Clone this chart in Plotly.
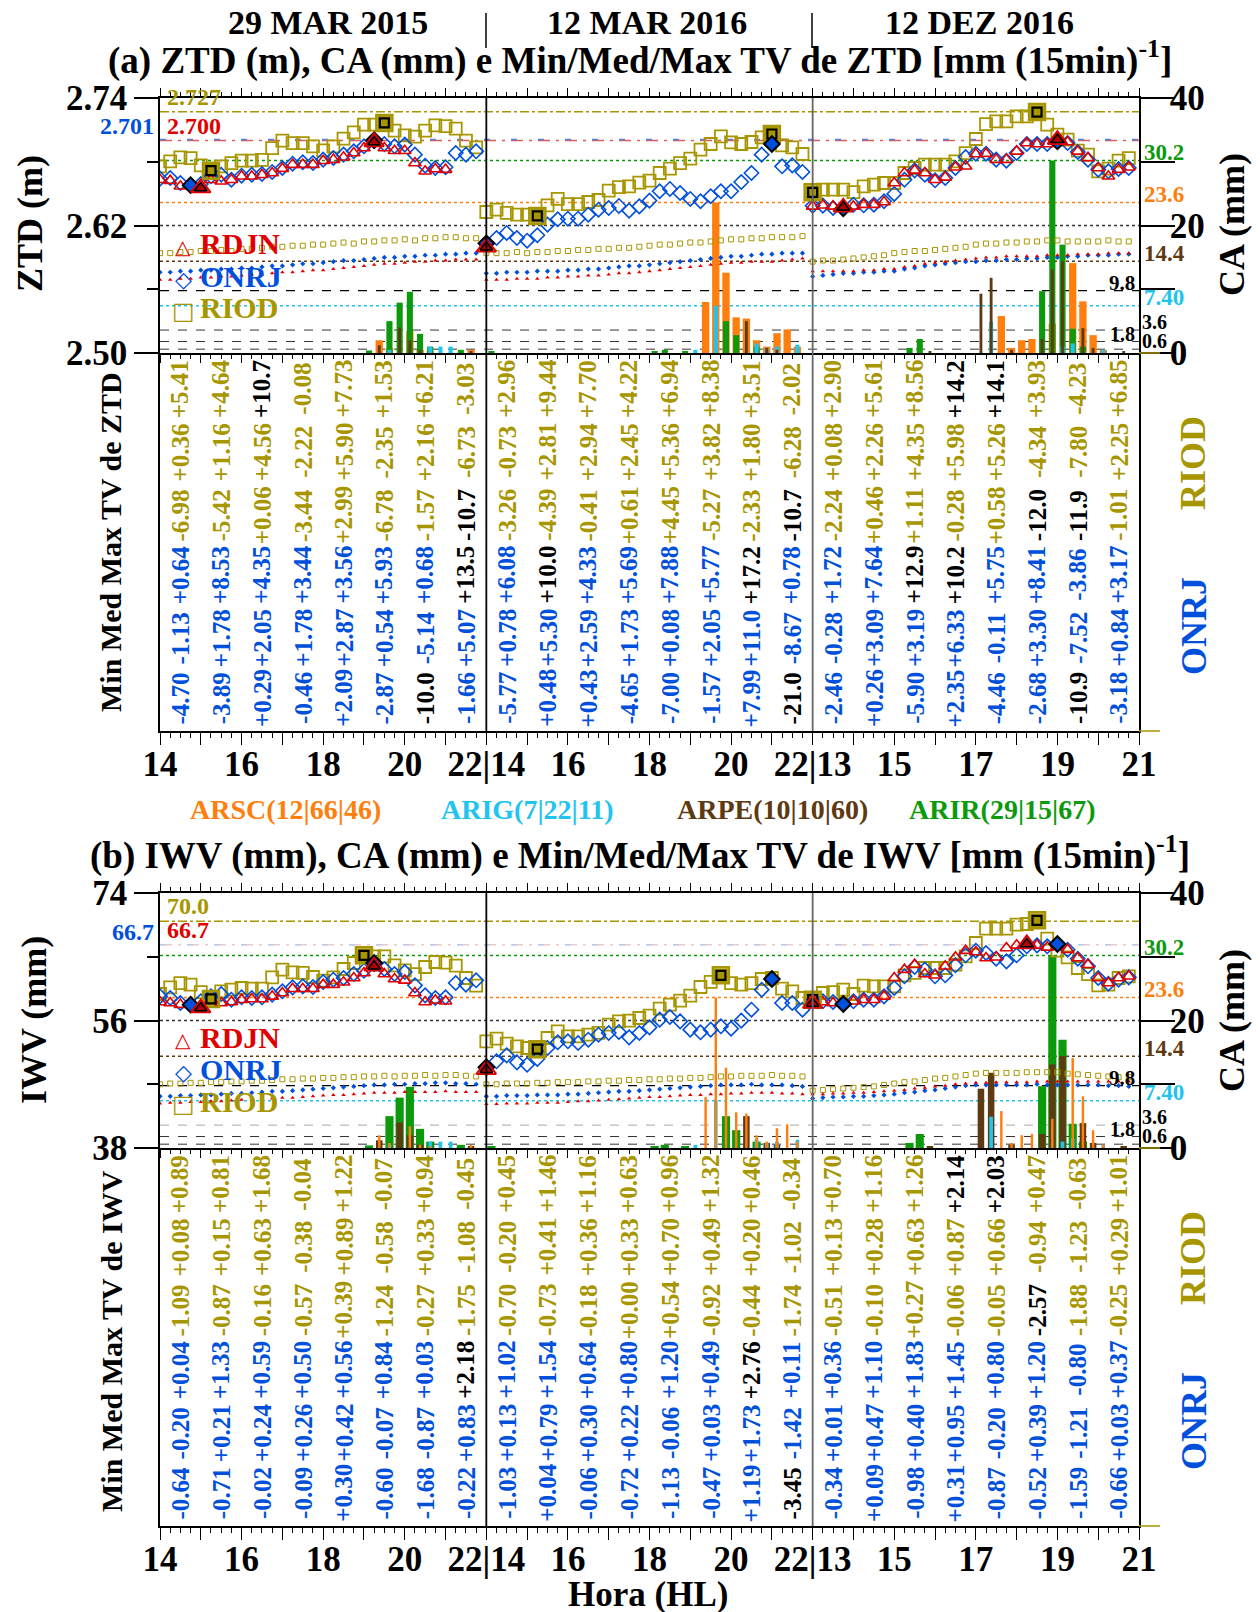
import plotly.graph_objects as go

W, H = 1260, 1612
FONT = "Liberation Serif"
SYM_FONT = "DejaVu Sans"

C_RDJN = "#e00000"
C_ONRJ = "#0050dc"
C_RIOD = "#a89600"
C_ARSC = "#ff7f0e"
C_ARIG = "#20c4ee"
C_ARPE = "#5e3a12"
C_ARIR = "#0c9a0c"

# ---------------- categories / labels ----------------
SEG_START = [14, 14, 13]
SEG_LABELS = ["29 MAR 2015", "12 MAR 2016", "12 DEZ 2016"]
X_TICKVALS = list(range(25))
X_TICKTEXT = ["14", "", "16", "", "18", "", "20", "", "22|14", "", "16", "", "18", "", "20", "",
              "22|13", "", "15", "", "17", "", "19", "", "21"]

# ---------------- ZTD (m), 15-min samples, 32 per day ----------------
ZTD_RDJN_1 = [2.6631, 2.6622, 2.6569, 2.6584, 2.6553, 2.6631, 2.6616, 2.6631, 2.6663, 2.6663, 2.6678, 2.6694,
              2.6735, 2.6773, 2.6773, 2.6773, 2.6810, 2.6820, 2.6842, 2.6882, 2.6929, 2.6986, 2.6929, 2.6904,
              2.6904, 2.6788, 2.6710, 2.6732, 2.6726, None, None, None]
ZTD_RDJN_2 = [2.5995] + [None] * 31
ZTD_RDJN_3 = [2.6380, 2.6390, 2.6380, 2.6371, 2.6380, 2.6396, 2.6396, 2.6421, 2.6600, 2.6694, 2.6719, 2.6694,
              2.6631, 2.6653, 2.6748, 2.6757, 2.6873, 2.6876, 2.6820, 2.6820, 2.6898, 2.6976, 2.6967, 2.6967,
              2.7008, 2.6986, 2.6898, 2.6835, 2.6741, 2.6663, 2.6726, 2.6748]
ZTD_ONRJ_1 = [2.6641, 2.6647, 2.6600, 2.6580, 2.6590, 2.6663, 2.6678, 2.6631, 2.6669, 2.6678, 2.6685, 2.6704,
              2.6741, 2.6782, 2.6795, 2.6788, 2.6820, 2.6835, 2.6867, 2.6898, 2.6945, 2.7002, 2.6967, 2.6945,
              2.6961, 2.6867, 2.6763, 2.6741, 2.6748, 2.6882, 2.6867, 2.6898]
ZTD_ONRJ_2 = [2.6032, 2.6082, 2.6130, 2.6082, 2.6057, 2.6108, 2.6208, 2.6258, 2.6264, 2.6264, 2.6302, 2.6349,
              2.6365, 2.6384, 2.6340, 2.6380, 2.6434, 2.6522, 2.6544, 2.6506, 2.6450, 2.6428, 2.6475, 2.6522,
              2.6522, 2.6609, 2.6694, 2.6867, 2.6967, 2.6757, 2.6766, 2.6704]
ZTD_ONRJ_3 = [2.6387, 2.6387, 2.6365, 2.6362, 2.6396, 2.6390, 2.6396, 2.6428, 2.6497, 2.6631, 2.6719, 2.6678,
              2.6625, 2.6647, 2.6741, 2.6845, 2.6876, 2.6876, 2.6820, 2.6810, 2.6882, 2.6967, 2.6967, 2.6967,
              2.6992, 2.6976, 2.6892, 2.6820, 2.6726, 2.6710, 2.6732, 2.6741]
ZTD_RIOD_1 = [2.6757, 2.6804, 2.6842, 2.6835, 2.6766, 2.6716, 2.6757, 2.6788, 2.6810, 2.6810, 2.6817, 2.6929,
              2.6998, 2.6976, 2.6976, 2.6945, 2.6907, 2.6945, 2.7017, 2.7077, 2.7149, 2.7149, 2.7165, 2.7093,
              2.7049, 2.7036, 2.7093, 2.7143, 2.7136, 2.7111, 2.6998, 2.6936]
ZTD_RIOD_2 = [2.6327, 2.6349, 2.6318, 2.6302, 2.6302, 2.6290, 2.6390, 2.6450, 2.6402, 2.6402, 2.6421, 2.6440,
              2.6528, 2.6562, 2.6569, 2.6603, 2.6622, 2.6694, 2.6735, 2.6788, 2.6829, 2.6914, 2.6967, 2.7039,
              2.6983, 2.6967, 2.6986, 2.7030, 2.7061, 2.6955, 2.6936, 2.6873]
ZTD_RIOD_3 = [2.6512, 2.6537, 2.6537, 2.6537, 2.6515, 2.6569, 2.6584, 2.6600, 2.6600, 2.6694, 2.6741, 2.6773,
              2.6773, 2.6773, 2.6804, 2.6882, 2.7014, 2.7155, 2.7180, 2.7180, 2.7227, 2.7227, 2.7268, 2.7149,
              2.7055, 2.7008, 2.6904, 2.6867, 2.6710, 2.6735, 2.6810, 2.6835]

# small (lower) series in panel (a)
ZTDS_RIOD_1 = [2.594, 2.594, 2.595, 2.595, 2.596, 2.596, 2.597, 2.596, 2.598, 2.598, 2.599, 2.600, 2.600, 2.601,
               2.601, 2.602, 2.602, 2.603, 2.604, 2.603, 2.605, 2.605, 2.606, 2.606, 2.607, 2.606, 2.608, 2.608,
               2.609, 2.609, 2.608, 2.608]
ZTDS_RIOD_2 = [2.594, 2.594, 2.594, 2.595, 2.594, 2.595, 2.595, 2.596, 2.596, 2.597, 2.597, 2.598, 2.598, 2.599,
               2.599, 2.600, 2.601, 2.602, 2.602, 2.603, 2.604, 2.604, 2.605, 2.606, 2.607, 2.607, 2.608, 2.608,
               2.609, 2.609, 2.609, 2.610]
ZTDS_RIOD_3 = [2.586, 2.587, 2.587, 2.588, 2.589, 2.590, 2.591, 2.592, 2.594, 2.595, 2.596, 2.596, 2.597, 2.598,
               2.599, 2.600, 2.602, 2.603, 2.603, 2.604, 2.604, 2.605, 2.605, 2.606, 2.606, 2.605, 2.605, 2.605,
               2.605, 2.606, 2.605, 2.605]
ZTDS_ONRJ_1 = [2.576, 2.576, 2.577, 2.577, 2.578, 2.578, 2.579, 2.579, 2.580, 2.580, 2.581, 2.582, 2.582, 2.583,
               2.584, 2.584, 2.585, 2.586, 2.587, 2.587, 2.588, 2.589, 2.590, 2.590, 2.591, 2.591, 2.592, 2.592,
               2.593, 2.593, 2.594, 2.594]
ZTDS_ONRJ_2 = [2.575, 2.575, 2.576, 2.576, 2.576, 2.577, 2.577, 2.577, 2.578, 2.578, 2.579, 2.579, 2.580, 2.581,
               2.582, 2.582, 2.583, 2.584, 2.585, 2.586, 2.587, 2.588, 2.589, 2.590, 2.591, 2.591, 2.592, 2.593,
               2.593, 2.594, 2.594, 2.594]
ZTDS_ONRJ_3 = [2.572, 2.573, 2.574, 2.575, 2.575, 2.576, 2.576, 2.577, 2.577, 2.579, 2.580, 2.582, 2.583, 2.584,
               2.585, 2.586, 2.586, 2.587, 2.587, 2.588, 2.588, 2.589, 2.589, 2.590, 2.590, 2.591, 2.591, 2.592,
               2.592, 2.592, 2.593, 2.593]
ZTDS_RDJN_1 = [2.569, 2.569, 2.570, 2.570, 2.571, 2.571, 2.572, 2.572, 2.573, 2.574, 2.574, 2.575, 2.576, 2.576,
               2.577, 2.578, 2.578, 2.579, 2.580, 2.581, 2.582, 2.583, 2.584, 2.584, 2.585, 2.586, 2.586, 2.587,
               2.587, 2.588, 2.588, 2.588]
ZTDS_RDJN_2 = [2.569, 2.569, 2.569, 2.570, 2.570, 2.570, 2.571, 2.571, 2.572, 2.572, 2.573, 2.573, 2.574, 2.575,
               2.575, 2.576, 2.577, 2.578, 2.579, 2.580, 2.581, 2.582, 2.583, 2.584, 2.585, 2.585, 2.586, 2.586,
               2.586, 2.587, 2.588, 2.589]
ZTDS_RDJN_3 = [2.577, 2.577, 2.577, 2.577, 2.577, 2.578, 2.578, 2.579, 2.579, 2.581, 2.582, 2.584, 2.585, 2.586,
               2.587, 2.588, 2.589, 2.590, 2.590, 2.591, 2.591, 2.591, 2.591, 2.592, 2.592, 2.592, 2.593, 2.593,
               2.593, 2.594, 2.594, 2.594]

# ---------------- IWV (mm) ----------------
IWV_RDJN_1 = [58.61, 58.47, 58.24, 58.33, 57.76, 58.94, 58.47, 58.61, 58.94, 59.04, 59.04, 59.41, 59.88, 60.49,
              60.49, 60.49, 61.06, 61.06, 61.39, 62.00, 62.71, 63.65, 62.56, 61.86, 61.67, 59.88, 58.61, 58.85,
              58.71, None, None, None]
IWV_RDJN_2 = [49.06] + [None] * 31
IWV_RDJN_3 = [58.40, 58.61, 58.47, 58.61, 58.71, 58.94, 58.94, 59.41, 62.00, 63.18, 63.88, 62.56, 62.38, 63.65,
              64.92, 65.86, 65.67, 64.82, 64.92, 66.24, 66.61, 66.80, 66.61, 66.33, 66.47, 66.00, 64.82, 63.88,
              62.00, 61.29, 62.00, 62.24]
IWV_ONRJ_1 = [59.41, 59.18, 58.47, 58.24, 58.71, 59.41, 59.74, 58.94, 59.27, 59.18, 59.27, 59.65, 60.12, 60.68,
              60.82, 60.73, 61.44, 61.76, 62.00, 62.56, 63.03, 64.12, 63.27, 62.56, 62.85, 60.96, 59.55, 59.18,
              59.27, 61.29, 61.06, 61.67]
IWV_ONRJ_2 = [49.39, 50.24, 51.08, 50.09, 49.76, 50.56, 52.12, 52.92, 53.06, 52.82, 53.29, 54.00, 54.24, 54.38,
              53.62, 54.24, 55.03, 56.12, 56.49, 55.88, 54.71, 54.33, 54.71, 55.18, 54.85, 55.98, 57.53, 60.35,
              61.86, 58.47, 58.47, 57.53]
IWV_ONRJ_3 = [58.80, 58.71, 58.61, 58.33, 58.71, 58.94, 58.94, 59.41, 60.59, 62.24, 63.55, 63.18, 62.24, 62.38,
              63.79, 65.20, 65.86, 65.53, 64.73, 64.35, 65.20, 66.47, 66.61, 66.47, 66.80, 66.00, 64.73, 63.65,
              62.00, 61.20, 61.76, 62.09]
IWV_RIOD_1 = [59.74, 60.68, 61.29, 61.06, 60.02, 59.04, 60.12, 60.35, 60.59, 60.49, 60.49, 62.09, 63.18, 62.80,
              62.71, 62.14, 61.62, 62.09, 63.27, 64.12, 65.20, 65.06, 65.06, 63.79, 63.08, 62.56, 63.55, 64.26,
              64.16, 63.74, 62.00, 60.92]
IWV_RIOD_2 = [53.06, 53.43, 52.73, 52.35, 52.12, 51.95, 53.53, 54.47, 53.76, 53.76, 54.00, 54.24, 55.41, 55.88,
              55.98, 56.35, 56.68, 57.67, 58.24, 58.80, 59.51, 60.73, 61.44, 62.38, 61.29, 61.06, 61.29, 61.86,
              62.00, 60.49, 60.12, 59.18]
IWV_RIOD_3 = [58.94, 59.88, 60.02, 60.35, 59.74, 60.92, 60.82, 60.82, 60.82, 62.38, 62.71, 63.41, 63.41, 63.41,
              63.88, 65.06, 66.94, 68.96, 68.96, 68.96, 69.53, 69.62, 70.14, 67.55, 65.86, 64.92, 63.41, 62.56,
              60.96, 61.06, 62.00, 62.24]

IWVS_RIOD_1 = [47.0, 47.1, 47.1, 47.2, 47.2, 47.3, 47.3, 47.4, 47.4, 47.5, 47.5, 47.6, 47.7, 47.7, 47.8, 47.8,
               47.9, 47.9, 48.0, 48.0, 48.1, 48.1, 48.2, 48.1, 48.2, 48.2, 48.3, 48.2, 48.3, 48.3, 48.2, 48.1]
IWVS_RIOD_2 = [47.0, 47.0, 47.1, 47.1, 47.1, 47.2, 47.2, 47.3, 47.3, 47.3, 47.4, 47.4, 47.5, 47.5, 47.6, 47.6,
               47.7, 47.7, 47.8, 47.8, 47.9, 47.9, 48.0, 48.1, 48.1, 48.2, 48.2, 48.2, 48.3, 48.2, 48.2, 48.1]
IWVS_RIOD_3 = [46.1, 46.2, 46.3, 46.4, 46.5, 46.6, 46.7, 46.9, 47.1, 47.3, 47.4, 47.6, 47.8, 47.9, 48.1, 48.3,
               48.5, 48.6, 48.6, 48.6, 48.6, 48.7, 48.7, 48.7, 48.7, 48.5, 48.4, 48.3, 48.2, 48.1, 48.0, 48.0]
IWVS_ONRJ_1 = [45.3, 45.3, 45.4, 45.4, 45.5, 45.5, 45.6, 45.7, 45.7, 45.8, 45.9, 46.0, 46.0, 46.1, 46.2, 46.3,
               46.4, 46.5, 46.6, 46.7, 46.8, 46.9, 46.9, 47.0, 47.0, 47.1, 47.1, 47.2, 47.2, 47.1, 47.1, 47.0]
IWVS_ONRJ_2 = [45.3, 45.3, 45.4, 45.4, 45.4, 45.5, 45.5, 45.5, 45.6, 45.6, 45.7, 45.8, 45.9, 46.0, 46.0, 46.1,
               46.2, 46.3, 46.4, 46.5, 46.6, 46.7, 46.8, 46.9, 46.9, 46.9, 47.0, 46.9, 46.9, 46.9, 46.8, 46.7]
IWVS_ONRJ_3 = [45.0, 45.1, 45.2, 45.2, 45.3, 45.3, 45.4, 45.5, 45.6, 45.8, 45.9, 46.1, 46.2, 46.4, 46.6, 46.8,
               46.9, 46.9, 46.9, 46.9, 46.9, 46.9, 47.0, 46.9, 46.9, 46.9, 46.9, 46.9, 46.9, 46.8, 46.8, 46.7]
IWVS_RDJN_1 = [44.3, 44.4, 44.4, 44.5, 44.5, 44.6, 44.6, 44.7, 44.8, 44.8, 44.9, 45.0, 45.1, 45.1, 45.2, 45.3,
               45.4, 45.5, 45.5, 45.6, 45.7, 45.8, 45.8, 45.8, 45.9, 45.9, 45.9, 45.9, 46.0, 45.9, 45.9, 45.9]
IWVS_RDJN_2 = [44.2, 44.2, 44.3, 44.3, 44.3, 44.4, 44.4, 44.4, 44.5, 44.6, 44.6, 44.7, 44.8, 44.9, 45.0, 45.1,
               45.2, 45.2, 45.3, 45.4, 45.5, 45.5, 45.6, 45.6, 45.7, 45.7, 45.8, 45.8, 45.8, 45.7, 45.7, 45.6]
IWVS_RDJN_3 = [45.6, 45.6, 45.7, 45.7, 45.8, 45.8, 45.9, 46.0, 46.1, 46.2, 46.4, 46.5, 46.7, 46.8, 47.0, 47.1,
               47.2, 47.2, 47.3, 47.3, 47.3, 47.3, 47.4, 47.4, 47.4, 47.4, 47.4, 47.4, 47.4, 47.4, 47.4, 47.4]

# ---------------- CA (mm, 15-min accumulated rain) ----------------
ARSC_SEG = [0, 0, 0, 0, 0, 0, 1, 1, 1, 1, 1, 1, 1, 1, 1, 1, 2, 2, 2, 2, 2, 2, 2, 2, 2]
ARSC_T = [19.25, 19.5, 20.0, 20.25, 20.5, 21.5, 19.25, 19.5, 19.75, 20.0, 20.25, 20.5, 20.75, 21.0, 21.25, 21.5,
          17.5, 17.75, 18.0, 18.25, 18.75, 19.25, 19.5, 19.75, 20.0]
ARSC_V = [2.0, 0.8, 3.4, 0.5, 0.3, 0.5, 8.0, 23.6, 12.6, 5.6, 5.4, 2.0, 1.0, 3.1, 3.7, 1.0,
          5.8, 0.8, 2.0, 2.2, 4.6, 14.1, 8.1, 2.8, 0.5]
ARIG_SEG = [0, 0, 0, 0, 1, 1, 1, 1, 1, 1, 2, 2, 2, 2]
ARIG_T = [19.5, 20.5, 20.75, 21.0, 19.0, 19.5, 20.5, 20.75, 21.0, 21.5, 17.25, 19.0, 19.25, 20.0]
ARIG_V = [0.5, 1.0, 1.0, 1.0, 0.5, 7.4, 1.5, 0.8, 1.0, 1.3, 4.9, 1.0, 1.5, 0.5]
ARPE_SEG = [0, 0, 0, 0, 0, 1, 1, 1, 2, 2, 2, 2, 2, 2, 2, 2, 2, 2]
ARPE_T = [19.25, 19.75, 20.0, 20.25, 21.5, 20.25, 20.75, 21.0, 15.75, 17.0, 17.25, 17.75, 18.5, 18.75, 19.0,
          19.5, 19.75, 20.5]
ARPE_V = [1.2, 4.0, 2.0, 0.5, 0.3, 5.0, 0.8, 0.5, 0.3, 9.3, 11.8, 0.5, 2.2, 13.1, 14.4, 3.9, 0.8, 0.2]
ARIR_SEG = [0, 0, 0, 0, 0, 0, 0, 1, 1, 1, 1, 1, 1, 1, 2, 2, 2, 2, 2, 2, 2]
ARIR_T = [19.0, 19.5, 19.75, 20.0, 20.25, 20.5, 21.25, 14.0, 18.0, 18.25, 18.75, 19.75, 20.0, 20.5,
          15.25, 15.5, 18.5, 18.75, 19.0, 19.25, 19.5]
ARIR_V = [0.4, 5.0, 7.9, 9.6, 3.0, 1.0, 0.5, 0.2, 0.3, 0.5, 0.3, 5.0, 2.8, 1.0,
          0.8, 2.2, 9.7, 30.2, 17.0, 3.8, 1.0]
LEGEND_TXT = ["ARSC(12|66|46)", "ARIG(7|22|11)", "ARPE(10|10|60)", "ARIR(29|15|67)"]

# reference levels
CA_REF = [30.2, 23.6, 14.4, 9.8, 7.40, 3.6, 1.8, 0.6]
CA_REF_TXT = ["30.2", "23.6", "14.4", "9.8", "7.40", "3.6", "1.8", "0.6"]
ZTD_MAX = [2.727, 2.701, 2.700]
ZTD_MAX_TXT = ["2.727", "2.701", "2.700"]
IWV_MAX = [70.0, 66.7, 66.7]
IWV_MAX_TXT = ["70.0", "66.7", "66.7"]

# ---------------- TV tables: per day, per hour: ONRJ min/med/max, RIOD min/med/max ----------------
TV_ZTD = [
    [[-4.70, -1.13, 0.64, -6.98, 0.36, 5.41], [-3.89, 1.78, 8.53, -5.42, 1.16, 4.64],
     [0.29, 2.05, 4.35, 0.06, 4.56, 10.7], [-0.46, 1.78, 3.44, -3.44, -2.22, -0.08],
     [2.09, 2.87, 3.56, 2.99, 5.90, 7.73], [-2.87, 0.54, 5.93, -6.78, -2.35, 1.53],
     [-10.0, -5.14, 0.68, -1.57, 2.16, 6.21], [-1.66, 5.07, 13.5, -10.7, -6.73, -3.03]],
    [[-5.77, 0.78, 6.08, -3.26, -0.73, 2.96], [0.48, 5.30, 10.0, -4.39, 2.81, 9.44],
     [0.43, 2.59, 4.33, -0.41, 2.94, 7.70], [-4.65, 1.73, 5.69, 0.61, 2.45, 4.22],
     [-7.00, 0.08, 7.88, 4.45, 5.36, 6.94], [-1.57, 2.05, 5.77, -5.27, 3.82, 8.38],
     [7.99, 11.0, 17.2, -2.33, 1.80, 3.51], [-21.0, -8.67, 0.78, -10.7, -6.28, -2.02]],
    [[-2.46, -0.28, 1.72, -2.24, 0.08, 2.90], [0.26, 3.09, 7.64, 0.46, 2.26, 5.61],
     [-5.90, 3.19, 12.9, 1.11, 4.35, 8.56], [2.35, 6.33, 10.2, -0.28, 5.98, 14.2],
     [-4.46, -0.11, 5.75, 0.58, 5.26, 14.1], [-2.68, 3.30, 8.41, -12.0, -4.34, 3.93],
     [-10.9, -7.52, -3.86, -11.9, -7.80, -4.23], [-3.18, 0.84, 3.17, -1.01, 2.25, 6.85]],
]
TV_ZTD_BLACK = [(0, 2, 5), (0, 6, 0), (0, 7, 2), (0, 7, 3), (1, 1, 2), (1, 6, 2), (1, 7, 0), (1, 7, 3),
                (2, 2, 2), (2, 3, 2), (2, 3, 5), (2, 4, 5), (2, 5, 3), (2, 6, 0), (2, 6, 3)]
TV_IWV = [
    [[-0.64, -0.20, 0.04, -1.09, 0.08, 0.89], [-0.71, 0.21, 1.33, -0.87, 0.15, 0.81],
     [-0.02, 0.24, 0.59, -0.16, 0.63, 1.68], [-0.09, 0.26, 0.50, -0.57, -0.38, -0.04],
     [0.30, 0.42, 0.56, 0.39, 0.89, 1.22], [-0.60, -0.07, 0.84, -1.24, -0.58, -0.07],
     [-1.68, -0.87, 0.03, -0.27, 0.33, 0.94], [-0.22, 0.83, 2.18, -1.75, -1.08, -0.45]],
    [[-1.03, 0.13, 1.02, -0.70, -0.20, 0.45], [0.04, 0.79, 1.54, -0.73, 0.41, 1.46],
     [-0.06, 0.30, 0.64, -0.18, 0.36, 1.16], [-0.72, 0.22, 0.80, 0.00, 0.33, 0.63],
     [-1.13, -0.06, 1.20, 0.54, 0.70, 0.96], [-0.47, 0.03, 0.49, -0.92, 0.49, 1.32],
     [1.19, 1.73, 2.76, -0.44, 0.20, 0.46], [-3.45, -1.42, 0.11, -1.74, -1.02, -0.34]],
    [[-0.34, 0.01, 0.36, -0.51, 0.13, 0.70], [0.09, 0.47, 1.10, -0.10, 0.28, 1.16],
     [-0.98, 0.40, 1.83, 0.27, 0.63, 1.26], [0.31, 0.95, 1.45, -0.06, 0.87, 2.14],
     [-0.87, -0.20, 0.80, -0.05, 0.66, 2.03], [-0.52, 0.39, 1.20, -2.57, -0.94, 0.47],
     [-1.59, -1.21, -0.80, -1.88, -1.23, -0.63], [-0.66, 0.03, 0.37, -0.25, 0.29, 1.01]],
]
TV_IWV_BLACK = [(0, 7, 2), (1, 6, 2), (1, 7, 0), (2, 3, 5), (2, 4, 5), (2, 5, 3)]

# ---------------- layout geometry (pixels) ----------------
def px(x):
    return x / W


def py(y):
    return 1 - y / H


XD = [px(152), px(1131)]
PANELS = {
    "a": dict(top=90, bot=345, tbot=723),
    "b": dict(top=885, bot=1140, tbot=1518),
}
SLOT_Y = [0.087, 0.246, 0.413, 0.571, 0.738, 0.905]

XP = [s * 8 + i * 0.25 for s in range(3) for i in range(32)]


def extremes(vals):
    xs, ys = [], []
    for s in range(3):
        seg = vals[s * 32:(s + 1) * 32]
        idx = [i for i, v in enumerate(seg) if v is not None]
        if not idx:
            continue
        imin = min(idx, key=lambda i: seg[i])
        imax = max(idx, key=lambda i: seg[i])
        for i in sorted({imin, imax}):
            xs.append(s * 8 + i * 0.25)
            ys.append(seg[i])
    return xs, ys


def bar_x(segs, ts):
    return [s * 8 + (t - SEG_START[s]) + 0.125 for s, t in zip(segs, ts)]


fig = go.Figure()

BARS = {
    "ARSC": (ARSC_SEG, ARSC_T, ARSC_V, C_ARSC),
    "ARIG": (ARIG_SEG, ARIG_T, ARIG_V, C_ARIG),
    "ARPE": (ARPE_SEG, ARPE_T, ARPE_V, C_ARPE),
    "ARIR": (ARIR_SEG, ARIR_T, ARIR_V, C_ARIR),
}


def add_panel(xa, yca, yv, rdjn, onrj, riod, rdjn_s, onrj_s, riod_s, bar_order):
    for name, w in bar_order:
        segs, ts, vs, col = BARS[name]
        fig.add_trace(go.Bar(x=bar_x(segs, ts), y=vs, width=w, marker=dict(color=col, line=dict(width=0)),
                             xaxis=xa, yaxis=yca, showlegend=False))
    fig.add_trace(go.Scatter(x=XP, y=riod_s, mode="markers", xaxis=xa, yaxis=yv, showlegend=False,
                             marker=dict(symbol="square-open", size=5, color=C_RIOD, line=dict(width=1))))
    fig.add_trace(go.Scatter(x=XP, y=onrj_s, mode="markers", xaxis=xa, yaxis=yv, showlegend=False,
                             marker=dict(symbol="diamond", size=4, color=C_ONRJ)))
    fig.add_trace(go.Scatter(x=XP, y=rdjn_s, mode="markers", xaxis=xa, yaxis=yv, showlegend=False,
                             marker=dict(symbol="triangle-up", size=4, color=C_RDJN)))
    fig.add_trace(go.Scatter(x=XP, y=riod, mode="markers", xaxis=xa, yaxis=yv, showlegend=False,
                             marker=dict(symbol="square-open", size=12, color=C_RIOD, line=dict(width=1.8))))
    fig.add_trace(go.Scatter(x=XP, y=onrj, mode="markers", xaxis=xa, yaxis=yv, showlegend=False,
                             marker=dict(symbol="diamond-open", size=11, color=C_ONRJ, line=dict(width=1.6))))
    fig.add_trace(go.Scatter(x=XP, y=rdjn, mode="markers", xaxis=xa, yaxis=yv, showlegend=False,
                             marker=dict(symbol="triangle-up-open", size=11, color=C_RDJN, line=dict(width=1.6))))
    hx, hy = extremes(riod)
    fig.add_trace(go.Scatter(x=hx, y=hy, mode="markers", xaxis=xa, yaxis=yv, showlegend=False,
                             marker=dict(symbol="square-open", size=16, color=C_RIOD, line=dict(width=2.5))))
    fig.add_trace(go.Scatter(x=hx, y=hy, mode="markers", xaxis=xa, yaxis=yv, showlegend=False,
                             marker=dict(symbol="square", size=9, color=C_RIOD, line=dict(width=2.2, color="black"))))
    hx, hy = extremes(onrj)
    fig.add_trace(go.Scatter(x=hx, y=hy, mode="markers", xaxis=xa, yaxis=yv, showlegend=False,
                             marker=dict(symbol="diamond", size=12, color=C_ONRJ, line=dict(width=2, color="black"))))
    hx, hy = extremes(rdjn)
    fig.add_trace(go.Scatter(x=hx, y=hy, mode="markers", xaxis=xa, yaxis=yv, showlegend=False,
                             marker=dict(symbol="triangle-up-open", size=17, color=C_RDJN, line=dict(width=2))))
    fig.add_trace(go.Scatter(x=hx, y=hy, mode="markers", xaxis=xa, yaxis=yv, showlegend=False,
                             marker=dict(symbol="triangle-up", size=11, color="#b00000", line=dict(width=1.5, color="black"))))


add_panel("x2", "y", "y2",
          ZTD_RDJN_1 + ZTD_RDJN_2 + ZTD_RDJN_3, ZTD_ONRJ_1 + ZTD_ONRJ_2 + ZTD_ONRJ_3,
          ZTD_RIOD_1 + ZTD_RIOD_2 + ZTD_RIOD_3,
          ZTDS_RDJN_1 + ZTDS_RDJN_2 + ZTDS_RDJN_3, ZTDS_ONRJ_1 + ZTDS_ONRJ_2 + ZTDS_ONRJ_3,
          ZTDS_RIOD_1 + ZTDS_RIOD_2 + ZTDS_RIOD_3,
          [("ARSC", 0.18), ("ARIR", 0.15), ("ARIG", 0.10), ("ARPE", 0.07)])
add_panel("x4", "y3", "y4",
          IWV_RDJN_1 + IWV_RDJN_2 + IWV_RDJN_3, IWV_ONRJ_1 + IWV_ONRJ_2 + IWV_ONRJ_3,
          IWV_RIOD_1 + IWV_RIOD_2 + IWV_RIOD_3,
          IWVS_RDJN_1 + IWVS_RDJN_2 + IWVS_RDJN_3, IWVS_ONRJ_1 + IWVS_ONRJ_2 + IWVS_ONRJ_3,
          IWVS_RIOD_1 + IWVS_RIOD_2 + IWVS_RIOD_3,
          [("ARIR", 0.2), ("ARPE", 0.16), ("ARIG", 0.09), ("ARSC", 0.06)])

# ---------------- axes ----------------
TICKF = dict(family=FONT, size=35, color="black", weight="bold")
XMINOR = dict(dtick=0.25, tick0=0, ticklen=5, ticks="outside", tickcolor="black", showgrid=False)


def text_xaxis(anchor):
    return dict(domain=XD, anchor=anchor, range=[0, 24], tickvals=X_TICKVALS, ticktext=X_TICKTEXT,
                ticks="outside", ticklen=12, tickwidth=1.2, tickcolor="black", tickfont=TICKF,
                ticklabelstandoff=-11, showline=True, linecolor="black", linewidth=1.5, showgrid=False,
                zeroline=False, minor=XMINOR, fixedrange=True, automargin=False)


def plot_xaxis(anchor, match):
    return dict(domain=XD, anchor=anchor, matches=match, range=[0, 24], tickvals=X_TICKVALS,
                showticklabels=False, ticks="outside", ticklen=8, tickwidth=1.2, tickcolor="black",
                mirror="ticks", showline=True, linecolor="black", linewidth=1.5, showgrid=False,
                zeroline=False, automargin=False,
                minor=dict(dtick=0.25, tick0=0, ticklen=4, ticks="outside", tickcolor="black"))


def ca_axis(dom, anchor):
    return dict(domain=dom, anchor=anchor, side="right", range=[0, 40], tickvals=[0, 10, 20, 30, 40],
                ticktext=["0", "", "20", "", "40"], ticks="outside", ticklen=34, tickwidth=1.5,
                tickcolor="black", tickfont=TICKF, ticklabelstandoff=-12, showline=True, linecolor="black",
                linewidth=1.5, showgrid=False, zeroline=False, automargin=False)


def val_axis(overlay, anchor, rng, major, minor_vals, fmt):
    return dict(overlaying=overlay, anchor=anchor, side="left", range=rng, tickvals=major,
                ticktext=[fmt.format(v) for v in major], ticks="outside", ticklen=24, tickwidth=1.5,
                tickcolor="black", tickfont=TICKF, showline=True, linecolor="black", linewidth=1.5,
                showgrid=False, zeroline=False, automargin=False,
                minor=dict(tickvals=minor_vals, ticklen=11, ticks="outside", tickcolor="black"))


def text_yaxis(dom, anchor):
    return dict(domain=dom, anchor=anchor, range=[0, 1], showticklabels=False, ticks="", showline=True,
                mirror=True, linecolor="black", linewidth=1.5, showgrid=False, zeroline=False,
                automargin=False)


pa, pb = PANELS["a"], PANELS["b"]
fig.update_layout(
    width=W, height=H, margin=dict(l=0, r=0, t=0, b=0, autoexpand=False),
    paper_bgcolor="white", plot_bgcolor="white", barmode="overlay", showlegend=False,
    xaxis=text_xaxis("y5"),
    xaxis2=plot_xaxis("y", "x"),
    xaxis3=text_xaxis("y6"),
    xaxis4=plot_xaxis("y3", "x3"),
    yaxis=ca_axis([py(pa["bot"]), py(pa["top"])], "x2"),
    yaxis2=val_axis("y", "x2", [2.50, 2.74], [2.50, 2.62, 2.74], [2.56, 2.68], "{:.2f}"),
    yaxis3=ca_axis([py(pb["bot"]), py(pb["top"])], "x4"),
    yaxis4=val_axis("y3", "x4", [38, 74], [38, 56, 74], [47, 65], "{:.0f}"),
    yaxis5=text_yaxis([py(pa["tbot"]), py(pa["bot"])], "x"),
    yaxis6=text_yaxis([py(pb["tbot"]), py(pb["bot"])], "x3"),
)

# ---------------- shapes ----------------
shapes = []
CA_STYLE = [(C_ARIR, "dot", 1.5), (C_ARSC, "dot", 1.5), (C_ARPE, "dot", 1.5), ("black", "dash", 1.2),
            (C_ARIG, "dot", 1.5), ("#333333", "dash", 1.0), ("#333333", "dash", 1.0), ("#333333", "dash", 1.0)]
for xa, yca, yv, maxv, maxcols in [("x2", "y", "y2", ZTD_MAX, [C_RIOD, "#5a7fe0", "#e05a5a"]),
                                   ("x4", "y3", "y4", IWV_MAX, [C_RIOD, "#b8cdee", "#f0c8c8"])]:
    for i, (v, (col, dash, w)) in enumerate(zip(CA_REF, CA_STYLE)):
        if yca == "y3" and i == 5:
            col, w = "#bbbbbb", 1.2
        shapes.append(dict(type="line", xref=f"{xa} domain", x0=0, x1=1, yref=yca, y0=v, y1=v, layer="below",
                           line=dict(color=col, dash=dash, width=w)))
    shapes.append(dict(type="line", xref=f"{xa} domain", x0=0, x1=1, yref=yca, y0=20, y1=20, layer="below",
                       line=dict(color="#333333", dash="dot", width=1.5)))
    shapes.append(dict(type="line", xref=f"{xa} domain", x0=0, x1=1, yref=yv, y0=maxv[0], y1=maxv[0],
                       layer="below", line=dict(color=maxcols[0], dash="dashdot", width=1.5)))
    shapes.append(dict(type="line", xref=f"{xa} domain", x0=0, x1=1, yref=yv, y0=maxv[2], y1=maxv[2],
                       layer="below", line=dict(color=maxcols[2], dash="12px,6px,3px,6px", width=1.6)))
    shapes.append(dict(type="line", xref=f"{xa} domain", x0=0, x1=1, yref=yv, y0=maxv[1], y1=maxv[1],
                       layer="below", line=dict(color=maxcols[1], dash="6px,21px", width=1.6)))

for p in (pa, pb):
    shapes.append(dict(type="line", xref="x", x0=8, x1=8, yref="paper", y0=py(p["top"]), y1=py(p["tbot"]),
                       line=dict(color="black", width=1.8)))
    shapes.append(dict(type="line", xref="x", x0=16, x1=16, yref="paper", y0=py(p["top"]), y1=py(p["tbot"]),
                       line=dict(color="#666666", width=1.8)))
    for yy in (p["bot"], p["tbot"]):
        shapes.append(dict(type="line", xref="paper", x0=px(1131), x1=px(1152), yref="paper", y0=py(yy),
                           y1=py(yy), line=dict(color=C_RIOD, width=1.5)))
for xx in (478, 804):
    shapes.append(dict(type="line", xref="paper", x0=px(xx), x1=px(xx), yref="paper", y0=py(5), y1=py(40),
                       line=dict(color="black", width=1.5)))
fig.update_layout(shapes=shapes)

# ---------------- annotations ----------------
anns = []


def ann(text, x, y, size, color="black", angle=0, xanchor="center", yanchor="middle",
        xref="paper", yref="paper", family=FONT, yshift=0, bold=True):
    anns.append(dict(text=(f"<b>{text}</b>" if bold else text), x=x, y=y, xref=xref, yref=yref,
                     showarrow=False, font=dict(family=family, size=size, color=color), textangle=angle,
                     xanchor=xanchor, yanchor=yanchor, yshift=yshift))


for lab, xx in zip(SEG_LABELS, (320, 639, 971)):
    ann(lab, px(xx), py(15), 34)
ann("(a) ZTD (m), CA (mm) e Min/Med/Max TV de ZTD [mm (15min)<sup>-1</sup>]", px(632), py(50), 37)
ann("(b) IWV (mm), CA (mm) e Min/Med/Max TV de IWV [mm (15min)<sup>-1</sup>]", px(632), py(845), 37)
for txt, col, xx in zip(LEGEND_TXT, (C_ARSC, C_ARIG, C_ARPE, C_ARIR), (277, 519, 764, 994)):
    ann(txt, px(xx), py(801), 28, col)
ann("Hora (HL)", px(640), py(1586), 35)

ann("ZTD (m)", px(22), py(216), 36, angle=-90)
ann("IWV (mm)", px(26), py(1012), 36, angle=-90)
ann("CA (mm)", px(1224), py(217), 36, angle=-90)
ann("CA (mm)", px(1224), py(1013), 36, angle=-90)
ann("Min Med Max TV de ZTD", px(103), py(534), 30, angle=-90)
ann("Min Med Max TV de IWV", px(103), py(1333), 30, angle=-90)
for p in (pa, pb):
    off = p["top"] - 90
    ann("RIOD", px(1185), py(455 + off), 36, C_RIOD, angle=-90)
    ann("ONRJ", px(1186), py(618 + off), 36, C_ONRJ, angle=-90)
    for k, (sym, name, col, ssize) in enumerate([("△", "RDJN", C_RDJN, 20), ("◇", "ONRJ", C_ONRJ, 22),
                                                  ("□", "RIOD", C_RIOD, 24)]):
        yy = [236, 268, 300][k] + (0 if p is pa else 793)
        ann(sym, px(175), py(yy + 3), ssize, col, family=SYM_FONT, bold=False)
        ann(name, px(190), py(yy), 30, col, xanchor="left")

CA_LBL_COL = [C_ARIR, C_ARSC, C_ARPE, "black", C_ARIG, "black", "black", "black"]
CA_LBL_X = [1134, 1134, 1134, 1114, 1134, 1146, 1114, 1146]
CA_LBL_ANCH = ["left", "left", "left", "center", "left", "center", "center", "center"]
CA_LBL_SIZE = [23, 23, 23, 21, 23, 20, 20, 20]
for yca in ("y", "y3"):
    for v, t, c, xx, an, sz in zip(CA_REF, CA_REF_TXT, CA_LBL_COL, CA_LBL_X, CA_LBL_ANCH, CA_LBL_SIZE):
        ann(t, px(xx), v, sz, c, xanchor=an, yref=yca, yshift=8)

for yv, vals, txts in (("y2", ZTD_MAX, ZTD_MAX_TXT), ("y4", IWV_MAX, IWV_MAX_TXT)):
    ann(txts[0], px(157), vals[0], 24, C_RIOD, xanchor="left", yanchor="bottom", yref=yv)
    ann(txts[1], px(148), vals[1], 24, C_ONRJ, xanchor="right", yanchor="bottom", yref=yv, yshift=-2)
    ann(txts[2], px(157), vals[2], 24, C_RDJN, xanchor="left", yanchor="bottom", yref=yv)


def fmt(v):
    return f"{v:+.1f}" if abs(v) >= 10 else f"{v:+.2f}"


for yref, table, black in (("y5", TV_ZTD, TV_ZTD_BLACK), ("y6", TV_IWV, TV_IWV_BLACK)):
    for s, day in enumerate(table):
        for c, col in enumerate(day):
            for k, v in enumerate(col):
                color = "black" if (s, c, k) in black else (C_ONRJ if k < 3 else C_RIOD)
                ann(fmt(v), s * 8 + c + 0.5, SLOT_Y[k], 25, color, angle=-90,
                    xref="x" if yref == "y5" else "x3", yref=yref)

fig.update_layout(annotations=anns)
fig.write_html("out.html")
